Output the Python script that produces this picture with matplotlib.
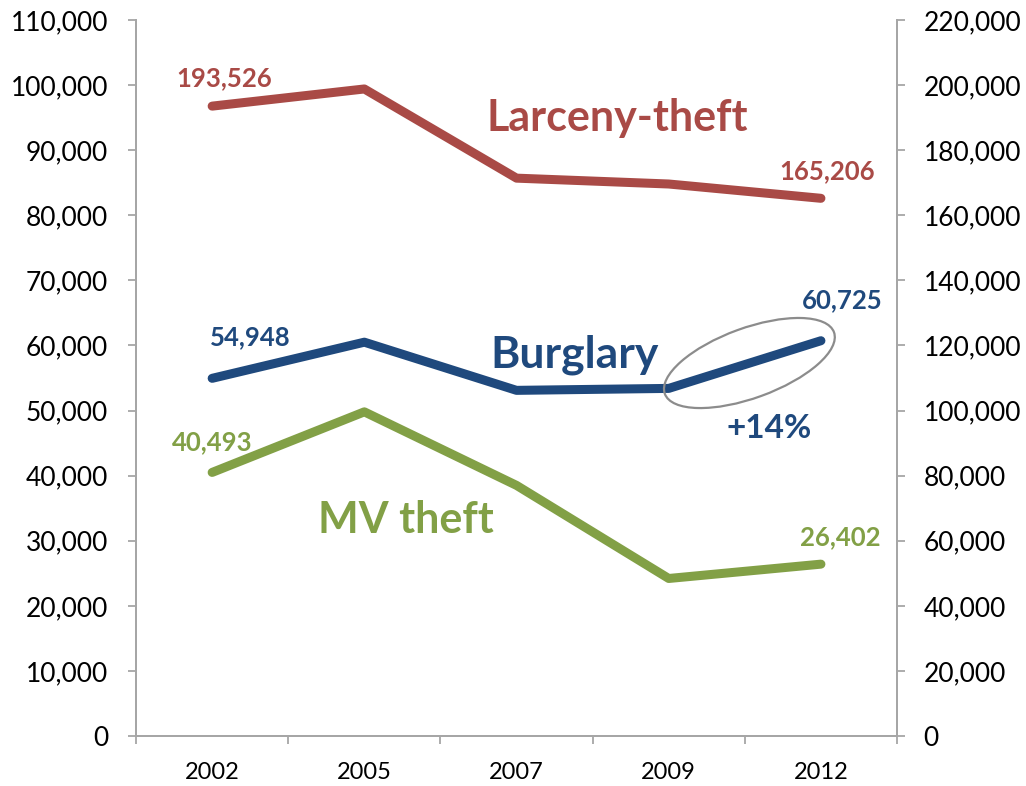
import matplotlib.pyplot as plt
from matplotlib.patches import Ellipse
from matplotlib.ticker import FuncFormatter, FixedLocator
import matplotlib.transforms as mtransforms

plt.rcParams["font.family"] = ["Lato", "DejaVu Sans"]

years = ["2002", "2005", "2007", "2009", "2012"]
larceny = [193526, 198800, 171400, 169600, 165206]   # right axis
burglary = [54948, 60500, 53100, 53400, 60725]        # left axis
mv_theft = [40493, 49800, 38500, 24200, 26402]        # left axis

c_larceny = "#A94A46"
c_burglary = "#1F497D"
c_mv = "#82A046"
axis_gray = "#A6A6A6"

fig = plt.figure(figsize=(10.26, 7.86), dpi=100)
ax = fig.add_axes([0.1326, 0.0636, 0.7417, 0.911])
ax2 = ax.twinx()

x = list(range(len(years)))
line_kw = dict(linewidth=6.5, solid_capstyle="round", solid_joinstyle="round")
ax.plot(x, burglary, color=c_burglary, zorder=3, **line_kw)
ax.plot(x, mv_theft, color=c_mv, zorder=3, **line_kw)
ax2.plot(x, larceny, color=c_larceny, zorder=3, **line_kw)

ax.set_xlim(-0.5, len(years) - 0.5)
ax.set_ylim(0, 110000)
ax2.set_ylim(0, 220000)
ax.set_yticks(range(0, 110001, 10000))
ax2.set_yticks(range(0, 220001, 20000))
fmt = FuncFormatter(lambda v, p: f"{int(v):,}")
ax.yaxis.set_major_formatter(fmt)
ax2.yaxis.set_major_formatter(fmt)

# categories centred between boundary ticks
ax.set_xticks(x)
ax.set_xticklabels(years)
ax.xaxis.set_minor_locator(FixedLocator([i - 0.5 for i in range(len(years) + 1)]))
ax.tick_params(axis="x", which="major", length=0, pad=19, labelsize=17)
ax.tick_params(axis="x", which="minor", length=6, width=1.3, color=axis_gray,
               direction="out")
ax.tick_params(axis="y", length=6, width=1.3, color=axis_gray, pad=14, labelsize=19)
ax2.tick_params(axis="y", length=6, width=1.3, color=axis_gray, pad=13, labelsize=19)

for a in (ax, ax2):
    a.spines["top"].set_visible(False)
    for side in ("left", "right", "bottom"):
        a.spines[side].set_color(axis_gray)
        a.spines[side].set_linewidth(1.3)

# value labels
lab = dict(fontsize=18.5, fontweight="bold", ha="center", va="center")
ax.text(0.08, 101100, f"{larceny[0]:,}", color=c_larceny, **lab)
ax.text(4.04, 86800, f"{larceny[-1]:,}", color=c_larceny, **lab)
ax.text(0.25, 61300, f"{burglary[0]:,}", color=c_burglary, **lab)
ax.text(4.14, 67000, f"{burglary[-1]:,}", color=c_burglary, **lab)
ax.text(0.0, 45200, f"{mv_theft[0]:,}", color=c_mv, **lab)
ax.text(4.13, 30600, f"{mv_theft[-1]:,}", color=c_mv, **lab)

# series names
name = dict(fontweight="bold", ha="center", va="center")
ax.text(2.66, 94900, "Larceny-theft", color=c_larceny, fontsize=31, **name)
ax.text(2.38, 58500, "Burglary", color=c_burglary, fontsize=32, **name)
ax.text(1.27, 33200, "MV theft", color=c_mv, fontsize=31, **name)

ax.text(3.66, 47300, "+14%", color=c_burglary, fontsize=24, fontweight="bold",
        ha="center", va="center")

# ellipse around the last burglary segment
trans = fig.dpi_scale_trans + mtransforms.ScaledTranslation(3.53, 57300, ax.transData)
ax.add_patch(Ellipse((0, 0), width=1.8, height=0.7, angle=20, transform=trans,
                     fill=False, edgecolor="#8C8C8C", linewidth=1.6, zorder=4))

fig.savefig("out.png", dpi=100)
